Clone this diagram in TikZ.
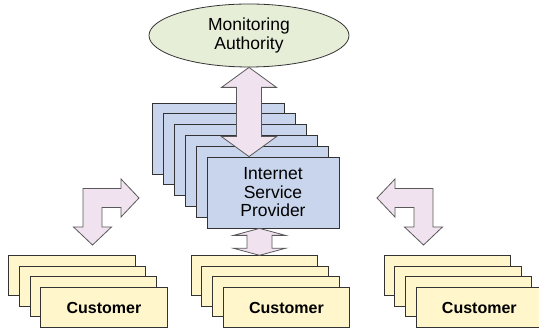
\documentclass[tikz,border=0pt]{standalone}
\usepackage{fontspec}
\setmainfont{Liberation Sans}
\usepackage{tikz}
\usetikzlibrary{shapes.geometric,calc}

\definecolor{authfill}{HTML}{E6EED8}
\definecolor{ispfill}{HTML}{C9D5EC}
\definecolor{custfill}{HTML}{FFF6CC}
\definecolor{arrowfill}{HTML}{F0E2EE}

% vertical two-headed block arrow: top tip, bottom tip, head length, head half width
\newcommand{\vbiarrow}[4]{%
	\draw[fatarrow] let \p1=(#1), \p2=(#2) in
	(\p1) -- (\x1+#4pt,\y1-#3pt) -- (\x1+12.5pt,\y1-#3pt)
	-- (\x2+12.5pt,\y2+#3pt) -- (\x2+#4pt,\y2+#3pt) -- (\p2)
	-- (\x2-#4pt,\y2+#3pt) -- (\x2-12.5pt,\y2+#3pt)
	-- (\x1-12.5pt,\y1-#3pt) -- (\x1-#4pt,\y1-#3pt) -- cycle;}

\begin{document}
\begin{tikzpicture}[x=1pt,y=1pt,
		every node/.style={font=\fontsize{17.5}{18.5}\selectfont, align=center},
		authority/.style={ellipse, draw=black!80, fill=authfill, line width=0.8pt,
			minimum width=200pt, minimum height=63pt, inner sep=0pt},
		ispbox/.style={rectangle, draw=black!80, fill=ispfill, line width=0.8pt,
			minimum width=132pt, minimum height=71pt, inner sep=0pt},
		custbox/.style={rectangle, draw=black!80, fill=custfill, line width=0.8pt,
			minimum width=126.5pt, minimum height=40pt, inner sep=0pt,
			font=\fontsize{16}{18}\selectfont\bfseries},
		fatarrow/.style={draw=black!65, fill=arrowfill, line width=0.8pt},
		bentarrow/.pic={
			\draw[fatarrow] (46.5,0) -- (28.5,19) -- (28.5,9.5) -- (-9.5,9.5)
			-- (-9.5,-29) -- (-19,-29) -- (0,-47) -- (19,-29) -- (9.5,-29)
			-- (9.5,-9.5) -- (28.5,-9.5) -- (28.5,-19) -- cycle;
		}]
		
		\useasboundingbox (0,0) rectangle (539,331);
		
		\node[authority] (auth) at (249,295.5) {Monitoring\\Authority};
		
		% provider stack
		\foreach \k in {5,4,...,1}
			\node[ispbox] (isp-\k) at ({273-11*\k},{138.5+10.8*\k}) {};
		\node[ispbox] (isp) at (273,138.5) {Internet\\Service\\Provider};
		
		% customer stacks
		\foreach \name/\cx in {custL/104, custM/286.5, custR/479.3} {
			\foreach \k in {3,2,1}
				\node[custbox] (\name-\k) at ({\cx-10.7*\k},{23.5+10.6*\k}) {};
			\node[custbox] (\name) at (\cx,23.5) {Customer};
		}
		
		% arrows
		\vbiarrow{auth.south}{auth.south |- isp.north}{20}{27.5}
		\coordinate (ispout) at ($(isp.south)+(-13.5,0)$);
		\vbiarrow{ispout}{ispout |- custM-3.north}{7}{26}
		
		\pic at (92.5,133) {bentarrow};
		\pic[xscale=-1] at (423.5,133) {bentarrow};
		
\end{tikzpicture}
\end{document}
